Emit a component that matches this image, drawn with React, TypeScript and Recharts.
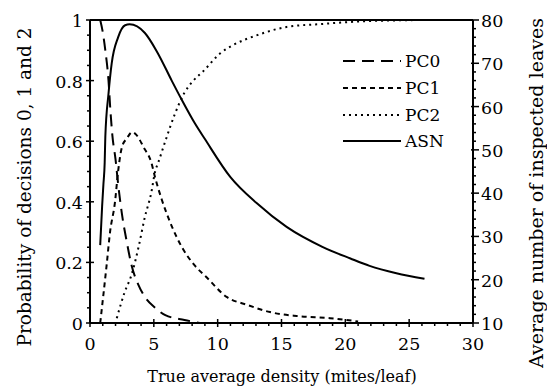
import { Legend, Line, LineChart, ReferenceLine, XAxis, YAxis } from "recharts"

const FONT = "DejaVu Serif"

// probability of decision 0 (long dash)
const pc0X = [0.8, 1.0, 1.2, 1.45, 1.6, 1.75, 2.0, 2.2, 2.5, 2.87, 3.26, 3.8, 4.3, 5.1, 5.9, 7.4, 8.6]
const pc0Y = [1.0, 0.96, 0.9, 0.8, 0.7, 0.62, 0.54, 0.46, 0.36, 0.27, 0.19, 0.125, 0.086, 0.05, 0.026, 0.01, 0.0]

// probability of decision 1 (short dash)
const pc1X = [0.8, 1.04, 1.3, 1.57, 1.96, 2.2, 2.5, 2.9, 3.3, 3.65, 4.2, 4.8, 5.1, 5.6, 6.4, 7.2, 8.2, 9.15, 10.7, 12.3, 14.1, 16.2, 18.8, 21]
const pc1Y = [0.0, 0.09, 0.19, 0.3, 0.4, 0.5, 0.58, 0.61, 0.63, 0.62, 0.58, 0.53, 0.48, 0.41, 0.32, 0.25, 0.19, 0.15, 0.086, 0.06, 0.036, 0.023, 0.016, 0.005]

// probability of decision 2 (dotted)
const pc2X = [2.1, 2.7, 3.26, 3.8, 4.3, 4.8, 5.1, 5.35, 5.9, 6.65, 7.4, 8.1, 8.85, 10.2, 11.2, 13.1, 15.4, 18.2, 21, 26]
const pc2Y = [0.016, 0.1, 0.16, 0.25, 0.35, 0.43, 0.5, 0.53, 0.6, 0.69, 0.76, 0.8, 0.83, 0.89, 0.917, 0.95, 0.977, 0.987, 0.995, 1.0]

// average sample number (solid, right axis)
const asnX = [0.8, 0.95, 1.05, 1.15, 1.2, 1.45, 1.7, 2.2, 2.75, 3.1, 4.3, 5.3, 6.4, 7.2, 8.2, 9.0, 11, 13.05, 15.4, 18.2, 20.4, 21.9, 24, 26.2]
const asnY = [28, 37, 42, 47, 53, 63, 70, 76, 78.8, 79, 77, 72.4, 66, 61.5, 56.2, 52.5, 43.7, 37.7, 32.2, 27.6, 24.9, 23.2, 21.5, 20.2]

const xTicks = [0, 1, 2, 3, 4, 5, 6, 7, 8, 9, 10, 11, 12, 13, 14, 15, 16, 17, 18, 19, 20, 21, 22, 23, 24, 25, 26, 27, 28, 29, 30]
const leftTicks = [0, 0.05, 0.1, 0.15, 0.2, 0.25, 0.3, 0.35, 0.4, 0.45, 0.5, 0.55, 0.6, 0.65, 0.7, 0.75, 0.8, 0.85, 0.9, 0.95, 1]
const rightTicks = [10, 12, 14, 16, 18, 20, 22, 24, 26, 28, 30, 32, 34, 36, 38, 40, 42, 44, 46, 48, 50, 52, 54, 56, 58, 60, 62, 64, 66, 68, 70, 72, 74, 76, 78, 80]

const toPoints = (xs: number[], ys: number[]) => xs.map((x, i) => ({ x, y: ys[i] }))

const series = [
  { name: "PC0", data: toPoints(pc0X, pc0Y), axis: "left", dash: "12 7" },
  { name: "PC1", data: toPoints(pc1X, pc1Y), axis: "left", dash: "5 4" },
  { name: "PC2", data: toPoints(pc2X, pc2Y), axis: "left", dash: "2 4" },
  { name: "ASN", data: toPoints(asnX, asnY), axis: "right", dash: undefined },
]

const isMajor = (v: number, step: number) => Math.abs(v / step - Math.round(v / step)) < 1e-6

function XTick({ x, y, payload }: any) {
  const v = payload.value
  if (!isMajor(v, 5)) {
    return <line x1={x} x2={x} y1={y} y2={y + 3} stroke="#000" strokeWidth={1.5} />
  }
  return (
    <g>
      <line x1={x} x2={x} y1={y - 4} y2={y + 4} stroke="#000" strokeWidth={1.5} />
      <text x={x} y={y + 27} textAnchor="middle" fontFamily={FONT} fontSize={17.5} fill="#000">
        {v}
      </text>
    </g>
  )
}

function LeftTick({ x, y, payload }: any) {
  const v = payload.value
  if (!isMajor(v, 0.2)) {
    return <line x1={x - 3} x2={x} y1={y} y2={y} stroke="#000" strokeWidth={1.5} />
  }
  return (
    <g>
      <line x1={x - 4} x2={x + 4} y1={y} y2={y} stroke="#000" strokeWidth={1.5} />
      <text x={x - 7} y={y + 7} textAnchor="end" fontFamily={FONT} fontSize={17.5} fill="#000">
        {Number(v.toFixed(1))}
      </text>
    </g>
  )
}

function RightTick({ x, y, payload }: any) {
  const v = payload.value
  if (!isMajor(v, 10)) {
    return <line x1={x} x2={x + 3} y1={y} y2={y} stroke="#000" strokeWidth={1.5} />
  }
  return (
    <g>
      <line x1={x - 2} x2={x + 6} y1={y} y2={y} stroke="#000" strokeWidth={1.5} />
      <text x={x + 8} y={y + 7} textAnchor="start" fontFamily={FONT} fontSize={17.5} fill="#000">
        {v}
      </text>
    </g>
  )
}

function LegendBox() {
  return (
    <div style={{ fontFamily: FONT, fontSize: 17, color: "#000" }}>
      {series.map((s) => (
        <div key={s.name} style={{ display: "flex", alignItems: "center", height: 26.7 }}>
          <svg width={62} height={10}>
            <line x1={0} x2={58} y1={5} y2={5} stroke="#000" strokeWidth={2} strokeDasharray={s.dash} />
          </svg>
          <span>{s.name}</span>
        </div>
      ))}
    </div>
  )
}

export default function App() {
  return (
    <div style={{ position: "absolute", left: 0, top: 0, background: "#fff", fontFamily: FONT }}>
      <LineChart width={547} height={392} margin={{ top: 20, right: 34, bottom: 29, left: 50 }}>
        <XAxis
          type="number"
          dataKey="x"
          domain={[0, 30]}
          ticks={xTicks}
          interval={0}
          tickSize={0}
          tickMargin={0}
          height={40}
          tick={<XTick />}
          axisLine={{ stroke: "#000", strokeWidth: 2 }}
          label={{
            content: () => (
              <text x={282} y={382} textAnchor="middle" fontFamily={FONT} fontSize={16} fill="#000">
                True average density (mites/leaf)
              </text>
            ),
          }}
        />
        <YAxis
          yAxisId="left"
          type="number"
          domain={[0, 1]}
          ticks={leftTicks}
          interval={0}
          tickSize={0}
          tickMargin={0}
          width={40}
          tick={<LeftTick />}
          axisLine={{ stroke: "#000", strokeWidth: 2 }}
          label={{
            content: () => (
              <text
                x={24}
                y={187}
                transform="rotate(-90 24 187)"
                textAnchor="middle"
                dominantBaseline="central"
                fontFamily={FONT}
                fontSize={18.5}
                fill="#000"
              >
                Probability of decisions 0, 1 and 2
              </text>
            ),
          }}
        />
        <YAxis
          yAxisId="right"
          orientation="right"
          type="number"
          domain={[10, 80]}
          ticks={rightTicks}
          interval={0}
          tickSize={0}
          tickMargin={0}
          width={40}
          tick={<RightTick />}
          axisLine={{ stroke: "#000", strokeWidth: 2 }}
          label={{
            content: () => (
              <text
                x={536}
                y={193}
                transform="rotate(-90 536 193)"
                textAnchor="middle"
                dominantBaseline="central"
                fontFamily={FONT}
                fontSize={19}
                fill="#000"
              >
                Average number of inspected leaves
              </text>
            ),
          }}
        />
        <ReferenceLine yAxisId="left" y={1} stroke="#000" strokeWidth={2} />
        {series.map((s) => (
          <Line
            key={s.name}
            name={s.name}
            data={s.data}
            dataKey="y"
            yAxisId={s.axis}
            type="monotone"
            stroke="#000"
            strokeWidth={2}
            strokeDasharray={s.dash}
            dot={false}
            isAnimationActive={false}
          />
        ))}
        <Legend
          layout="vertical"
          align="center"
          verticalAlign="middle"
          content={<LegendBox />}
          wrapperStyle={{ left: 343, top: 48, width: 130 }}
        />
      </LineChart>
    </div>
  )
}
